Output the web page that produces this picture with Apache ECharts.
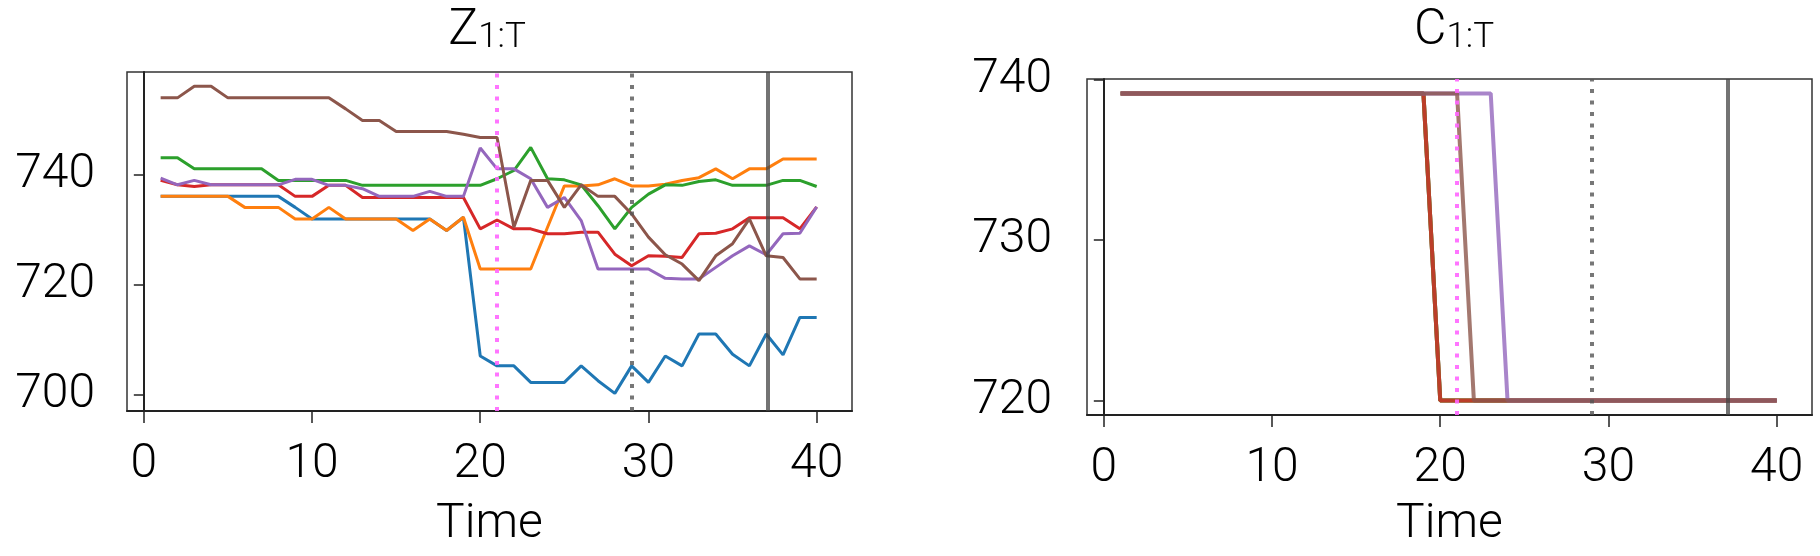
<!DOCTYPE html>
<html>
<head>
<meta charset="utf-8">
<script src="https://cdn.jsdelivr.net/npm/echarts@6/dist/echarts.min.js"></script>
<style>
html,body{margin:0;padding:0;background:#fff;}
#chart{width:1820px;height:556px;}
</style>
</head>
<body>
<div id="chart"></div>
<script>
// ---------- data ----------
const time = [1,2,3,4,5,6,7,8,9,10,11,12,13,14,15,16,17,18,19,20,21,22,23,24,25,26,27,28,29,30,31,32,33,34,35,36,37,38,39,40];

// Z_{1:T}
const zBlue   = [736.1,736.1,736.1,736.1,736.1,736.1,736.1,736.1,734.1,732.0, 732.0,732.0,732.0,732.0,732.0,732.0,732.0,729.9,732.3,707.1, 705.3,705.3,702.3,702.3,702.3,705.3,702.6,700.3,705.3,702.3, 707.1,705.3,711.1,711.1,707.4,705.3,711.1,707.3,714.1,714.1];
const zOrange = [736.1,736.1,736.1,736.1,736.1,734.1,734.1,734.1,732.0,732.0, 734.1,732.0,732.0,732.0,732.0,729.9,732.0,729.9,732.3,722.9, 722.9,722.9,722.9,730.5,738.0,738.0,738.2,739.3,738.0,738.0, 738.3,739.0,739.5,741.1,739.3,741.1,741.1,742.9,742.9,742.9];
const zGreen  = [743.1,743.1,741.1,741.1,741.1,741.1,741.1,739.0,739.0,739.0, 739.0,739.0,738.1,738.1,738.1,738.1,738.1,738.1,738.1,738.1, 739.3,740.8,745.0,739.3,739.1,738.2,734.4,730.2,734.1,736.5, 738.2,738.1,738.8,739.1,738.1,738.1,738.1,739.0,739.0,737.9];
const zRed    = [739.0,738.2,737.9,738.2,738.2,738.2,738.2,738.2,736.1,736.1, 738.1,738.1,735.9,735.9,735.9,735.9,735.9,735.9,735.9,730.2, 731.8,730.2,730.2,729.3,729.3,729.6,729.6,725.6,723.5,725.3, 725.2,725.0,729.3,729.4,730.2,732.2,732.2,732.2,730.2,734.2];
const zPurple = [739.4,738.2,739.0,738.2,738.2,738.2,738.2,738.2,739.2,739.2, 738.1,738.1,737.5,736.1,736.1,736.1,737.0,736.1,736.1,744.9, 741.1,741.1,739.3,734.1,735.9,731.7,722.9,722.9,722.9,722.9, 721.2,721.1,721.1,723.2,725.3,727.1,725.5,729.3,729.4,734.2];
const zBrown  = [754.0,754.0,756.1,756.1,754.0,754.0,754.0,754.0,754.0,754.0, 754.0,752.0,749.9,749.9,747.9,747.9,747.9,747.9,747.4,746.8, 746.8,730.5,739.0,739.0,734.1,738.2,736.1,736.1,732.9,728.7, 725.5,723.8,720.8,725.3,727.5,732.0,725.3,725.0,721.1,721.1];

// C_{1:T}
const cBlue   = [739.15,739.15,739.15,739.15,739.15,739.15,739.15,739.15,739.15,739.15, 739.15,739.15,739.15,739.15,739.15,739.15,739.15,739.15,739.15,720, 720,720,720,720,720,720,720,720,720,720, 720,720,720,720,720,720,720,720,720,720];
const cOrange = [739.15,739.15,739.15,739.15,739.15,739.15,739.15,739.15,739.15,739.15, 739.15,739.15,739.15,739.15,739.15,739.15,739.15,739.15,739.15,720, 720,720,720,720,720,720,720,720,720,720, 720,720,720,720,720,720,720,720,720,720];
const cGreen  = [739.15,739.15,739.15,739.15,739.15,739.15,739.15,739.15,739.15,739.15, 739.15,739.15,739.15,739.15,739.15,739.15,739.15,739.15,739.15,720, 720,720,720,720,720,720,720,720,720,720, 720,720,720,720,720,720,720,720,720,720];
const cRed    = [739.15,739.15,739.15,739.15,739.15,739.15,739.15,739.15,739.15,739.15, 739.15,739.15,739.15,739.15,739.15,739.15,739.15,739.15,739.15,720, 720,720,720,720,720,720,720,720,720,720, 720,720,720,720,720,720,720,720,720,720];
const cPurple = [739.15,739.15,739.15,739.15,739.15,739.15,739.15,739.15,739.15,739.15, 739.15,739.15,739.15,739.15,739.15,739.15,739.15,739.15,739.15,739.15, 739.15,739.15,739.15,720,720,720,720,720,720,720, 720,720,720,720,720,720,720,720,720,720];
const cBrown  = [739.15,739.15,739.15,739.15,739.15,739.15,739.15,739.15,739.15,739.15, 739.15,739.15,739.15,739.15,739.15,739.15,739.15,739.15,739.15,739.15, 739.15,720,720,720,720,720,720,720,720,720, 720,720,720,720,720,720,720,720,720,720];

const xTicks = [0,10,20,30,40];
const zTicks = [700,720,740];
const cTicks = [720,730,740];
const vMagenta = 21;
const vGreyDot = 29;
const vSolid = 37.1;

const seriesNames = ['blue','orange','green','red','purple','brown'];
const colors = ['#1f77b4','#ff7f0e','#2ca02c','#d62728','#9467bd','#8c564b'];

// ---------- chart ----------
const FONT = 'Roboto, "Liberation Sans", sans-serif';
const chart = echarts.init(document.getElementById('chart'), null, {renderer:'canvas'});

function pairs(ys){ return time.map((t,i)=>[t, ys[i]]); }

function xAxisDef(gi, gap){
  return {
    type:'value', gridIndex:gi, min:-1, max:42.1,
    name:'Time', nameLocation:'middle', nameGap:gap,
    nameTextStyle:{fontFamily:FONT, fontWeight:300, fontSize:48, color:'#000'},
    axisLine:{show:true, lineStyle:{color:'#222', width:2}},
    axisTick:{show:true, length:12, customValues:xTicks, lineStyle:{color:'#222', width:1.5}},
    axisLabel:{show:true, margin:30, customValues:xTicks, fontFamily:FONT, fontWeight:300, fontSize:48, color:'#000'},
    splitLine:{show:false}
  };
}
function yAxisDef(gi, mn, mx, ticks, margin){
  return {
    type:'value', gridIndex:gi, min:mn, max:mx,
    axisLine:{show:true, lineStyle:{color:'#222', width:2}},
    axisTick:{show:true, length:10, customValues:ticks, lineStyle:{color:'#222', width:1.5}},
    axisLabel:{show:true, margin:margin, customValues:ticks, fontFamily:FONT, fontWeight:300, fontSize:48, color:'#000'},
    splitLine:{show:false}
  };
}
function vlines(){
  return {
    silent:true, symbol:['none','none'], label:{show:false}, animation:false,
    emphasis:{disabled:true},
    data:[
      {xAxis:vMagenta, lineStyle:{color:'#ff66ff', width:4, type:[4,7.5], opacity:0.9}},
      {xAxis:vGreyDot, lineStyle:{color:'#555555', width:4, type:[4,7.5], opacity:0.8}},
      {xAxis:vSolid, lineStyle:{color:'#444444', width:4, type:'solid', opacity:0.75}}
    ]
  };
}

const zData = [zBlue,zOrange,zGreen,zRed,zPurple,zBrown];
const cData = [cBlue,cOrange,cGreen,cRed,cPurple,cBrown];
const series = [];
zData.forEach((ys,i)=>{
  const s = {type:'line', name:'Z-'+seriesNames[i], xAxisIndex:0, yAxisIndex:0, data:pairs(ys),
    showSymbol:false, symbol:'none', lineStyle:{color:colors[i], width:3}, itemStyle:{color:colors[i]}, silent:true};
  if (i===zData.length-1) s.markLine = vlines();
  series.push(s);
});
cData.forEach((ys,i)=>{
  const s = {type:'line', name:'C-'+seriesNames[i], xAxisIndex:1, yAxisIndex:1, data:pairs(ys),
    showSymbol:false, symbol:'none', lineStyle:{color:colors[i], width:4, opacity:0.8}, itemStyle:{color:colors[i]}, silent:true};
  if (i===cData.length-1) s.markLine = vlines();
  series.push(s);
});

const option = {
  animation:false,
  backgroundColor:'#fff',
  grid:[
    {left:127, top:72, width:725, height:339, show:true, borderColor:'#333', borderWidth:1.5, backgroundColor:'transparent'},
    {left:1087, top:79, width:725, height:336, show:true, borderColor:'#333', borderWidth:1.5, backgroundColor:'transparent'}
  ],
  xAxis:[xAxisDef(0, 90), xAxisDef(1, 86)],
  yAxis:[yAxisDef(0, 697.1, 758.7, zTicks, 32), yAxisDef(1, 719.1, 740.05, cTicks, 35)],
  graphic:[
    {type:'text', x:487, y:56, silent:true, style:{
      text:'{z|Z}{s|1:T}', align:'center', verticalAlign:'bottom',
      rich:{
        z:{fontFamily:FONT, fontWeight:300, fontSize:50, lineHeight:50, verticalAlign:'bottom', fill:'#000', color:'#000'},
        s:{fontFamily:FONT, fontWeight:300, fontSize:35, lineHeight:31, verticalAlign:'bottom', fill:'#000', color:'#000'}
      }}},
    {type:'text', x:1454, y:56, silent:true, style:{
      text:'{z|C}{s|1:T}', align:'center', verticalAlign:'bottom',
      rich:{
        z:{fontFamily:FONT, fontWeight:300, fontSize:50, lineHeight:50, verticalAlign:'bottom', fill:'#000', color:'#000'},
        s:{fontFamily:FONT, fontWeight:300, fontSize:35, lineHeight:31, verticalAlign:'bottom', fill:'#000', color:'#000'}
      }}}
  ],
  series:series
};
chart.setOption(option);
</script>
</body>
</html>
